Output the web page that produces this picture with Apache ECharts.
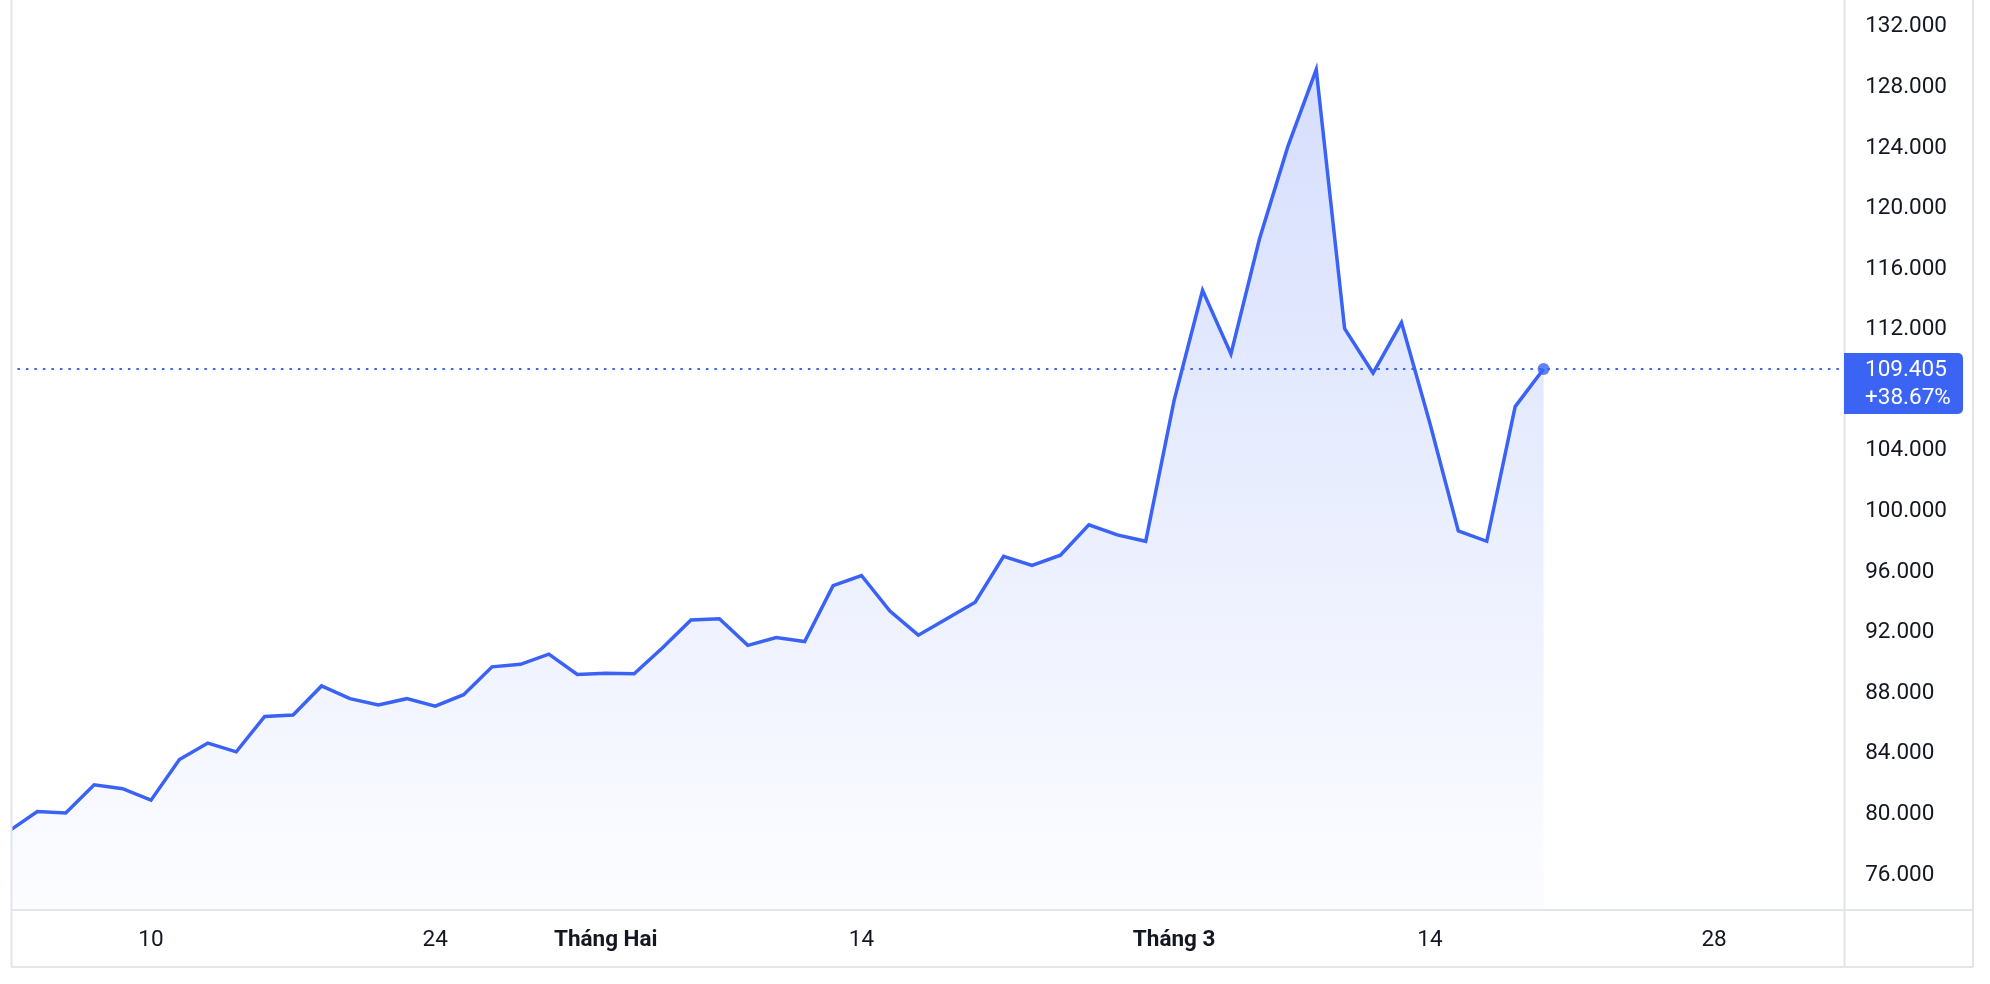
<!DOCTYPE html>
<html>
<head>
<meta charset="utf-8">
<script src="https://cdn.jsdelivr.net/npm/echarts@6/dist/echarts.min.js"></script>
<style>
html,body{margin:0;padding:0;background:#ffffff;}
#chart{width:1990px;height:984px;}
</style>
</head>
<body>
<div id="chart"></div>
<script>
// Trading days (category axis)
const dates = [
  '2025-01-03','2025-01-06','2025-01-07','2025-01-08','2025-01-09','2025-01-10',
  '2025-01-13','2025-01-14','2025-01-15','2025-01-16','2025-01-17',
  '2025-01-20','2025-01-21','2025-01-22','2025-01-23','2025-01-24',
  '2025-01-27','2025-01-28','2025-01-29','2025-01-30','2025-01-31',
  '2025-02-03','2025-02-04','2025-02-05','2025-02-06','2025-02-07',
  '2025-02-10','2025-02-11','2025-02-12','2025-02-13','2025-02-14',
  '2025-02-17','2025-02-18','2025-02-19','2025-02-20','2025-02-21',
  '2025-02-24','2025-02-25','2025-02-26','2025-02-27','2025-02-28',
  '2025-03-03','2025-03-04','2025-03-05','2025-03-06','2025-03-07',
  '2025-03-10','2025-03-11','2025-03-12','2025-03-13','2025-03-14',
  '2025-03-17','2025-03-18','2025-03-19','2025-03-20','2025-03-21',
  '2025-03-24','2025-03-25','2025-03-26','2025-03-27','2025-03-28',
  '2025-03-31','2025-04-01','2025-04-02','2025-04-03','2025-04-04'
];

// Closing prices (one per trading day, from 2025-01-03)
const prices = [
  78896, 80190, 80100, 81950, 81700, 80940,
  83620, 84710, 84130, 86470, 86560,
  88480, 87640, 87230, 87640, 87140,
  87900, 89740, 89910, 90580, 89240,
  89320, 89280, 91000, 92840, 92920,
  91160, 91670, 91410, 95100, 95770,
  93420, 91830, 92920, 94010, 97030,
  96440, 97110, 99120, 98450, 98030,
  107330, 114600, 110400, 117970, 124080,
  129170, 112060, 109140, 112470, 105820,
  98720, 98030, 106920, 109405
];

// X tick labels
const tickDates  = ['2025-01-10','2025-01-24','2025-02-03','2025-02-14','2025-03-03','2025-03-14','2025-03-28'];
const tickLabels = ['10','24','Tháng Hai','14','Tháng 3','14','28'];
const monthLabels = ['Tháng Hai','Tháng 3'];

// Y tick labels
const yTicks = [76000,80000,84000,88000,92000,96000,100000,104000,108000,112000,116000,120000,124000,128000,132000];
const yHidden = [108000];

const changeText = '+38.67%';

const BLUE = '#3a63f5';
const TEXT = '#131722';
const FRAME = '#e2e5eb';
const FONT = 'Roboto, "Noto Sans", sans-serif';
const FS = 22.5;

const lastIdx = prices.length - 1;
const lastPrice = prices[lastIdx];
const fmt = v => (v / 1000).toFixed(3);

const chart = echarts.init(document.getElementById('chart'), null, {renderer: 'canvas'});

chart.setOption({
  animation: false,
  backgroundColor: '#ffffff',
  textStyle: {fontFamily: FONT},
  grid: {left: 8.9, right: 133.8, top: 0, bottom: 74.5, containLabel: false, outerBoundsMode: 'none'},
  xAxis: {
    type: 'category',
    data: dates,
    boundaryGap: false,
    axisLine: {show: false},
    axisTick: {show: false},
    splitLine: {show: false},
    axisLabel: {
      interval: (i, v) => tickDates.indexOf(v) >= 0,
      hideOverlap: false,
      margin: 19,
      fontSize: FS,
      fontFamily: FONT,
      color: TEXT,
      formatter: v => {
        const k = tickDates.indexOf(v);
        if (k < 0) return '';
        const t = tickLabels[k];
        return monthLabels.indexOf(t) >= 0 ? '{b|' + t + '}' : t;
      },
      rich: {b: {fontWeight: 'bold', fontSize: FS, fontFamily: FONT, color: TEXT}}
    }
  },
  yAxis: {
    type: 'value',
    position: 'right',
    min: 73722,
    max: 133763,
    scale: true,
    axisLine: {show: false},
    axisTick: {show: false},
    splitLine: {show: false},
    axisLabel: {
      customValues: yTicks.filter(v => yHidden.indexOf(v) < 0),
      margin: 9,
      fontSize: FS,
      fontFamily: FONT,
      color: TEXT,
      align: 'left',
      formatter: v => fmt(v)
    }
  },
  series: [
    {
      type: 'line',
      data: prices,
      showSymbol: false,
      symbol: 'none',
      lineStyle: {color: BLUE, width: 3.5, join: 'miter'},
      areaStyle: {
        color: new echarts.graphic.LinearGradient(0, 0, 0, 1, [
          {offset: 0, color: 'rgba(58,99,245,0.30)'},
          {offset: 1, color: 'rgba(58,99,245,0.02)'}
        ])
      },
      markLine: {
        silent: true,
        symbol: ['none', 'none'],
        label: {show: false},
        lineStyle: {color: BLUE, width: 2, type: [2.5, 6]},
        data: [{yAxis: lastPrice}]
      },
      z: 3
    },
    {
      type: 'scatter',
      data: [[dates[lastIdx], lastPrice]],
      symbol: 'circle',
      symbolSize: 12,
      itemStyle: {color: BLUE},
      z: 4
    }
  ]
});

const py = chart.convertToPixel({yAxisIndex: 0}, lastPrice);

chart.setOption({
  graphic: [
    {type: 'rect', z: 100, shape: {x: 0, y: 0, width: 11, height: 910}, style: {fill: '#ffffff'}},
    {type: 'line', z: 101, shape: {x1: 11.5, y1: 0, x2: 11.5, y2: 967}, style: {stroke: FRAME, lineWidth: 2}},
    {type: 'line', z: 101, shape: {x1: 1844.5, y1: 0, x2: 1844.5, y2: 967}, style: {stroke: FRAME, lineWidth: 2}},
    {type: 'line', z: 101, shape: {x1: 1973, y1: 0, x2: 1973, y2: 967}, style: {stroke: FRAME, lineWidth: 2}},
    {type: 'line', z: 101, shape: {x1: 11, y1: 910, x2: 1973, y2: 910}, style: {stroke: FRAME, lineWidth: 2}},
    {type: 'line', z: 101, shape: {x1: 11, y1: 967, x2: 1973, y2: 967}, style: {stroke: FRAME, lineWidth: 2}},
    {type: 'rect', z: 102, shape: {x: 1844, y: py - 16, width: 119, height: 61, r: [0, 5, 5, 0]}, style: {fill: '#3b64f4'}},
    {type: 'text', z: 103, x: 1865, y: py + 1, style: {text: fmt(lastPrice), fill: '#ffffff', font: FS + 'px ' + FONT, verticalAlign: 'middle', align: 'left'}},
    {type: 'text', z: 103, x: 1865, y: py + 29, style: {text: changeText, fill: '#ffffff', font: FS + 'px ' + FONT, verticalAlign: 'middle', align: 'left'}}
  ]
});
</script>
</body>
</html>
